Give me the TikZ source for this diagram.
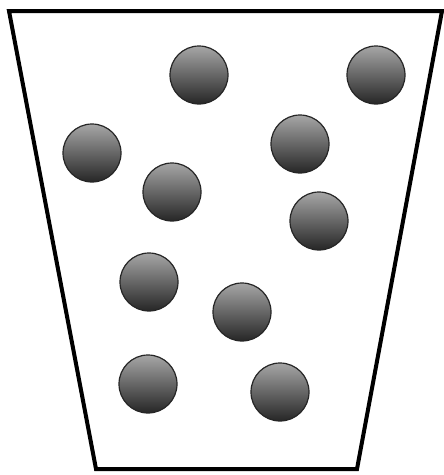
\documentclass[tikz,border=0pt]{standalone}
\tikzset{
  cup/.style={draw=black, line width=4pt, line join=miter},
  ball/.style={circle, minimum size=58pt, inner sep=0pt, draw=black!85, line width=1.2pt,
    top color=black!35, bottom color=black!85, shading angle=0}
}
\begin{document}
\begin{tikzpicture}[x=1pt,y=-1pt]
\useasboundingbox (0,0) rectangle (444,475);
\fill[white] (0,0) rectangle (444,475);
\draw[cup] (9,11) -- (442,11) -- (357,469) -- (96,469) -- cycle;
\node[ball] (b1) at (199,75) {};
\node[ball] (b2) at (376,75) {};
\node[ball] (b3) at (92,153) {};
\node[ball] (b4) at (300,144) {};
\node[ball] (b5) at (172,192) {};
\node[ball] (b6) at (319,221) {};
\node[ball] (b7) at (149,282) {};
\node[ball] (b8) at (242,312) {};
\node[ball] (b9) at (148,384) {};
\node[ball] (b10) at (280,392) {};
\end{tikzpicture}
\end{document}
